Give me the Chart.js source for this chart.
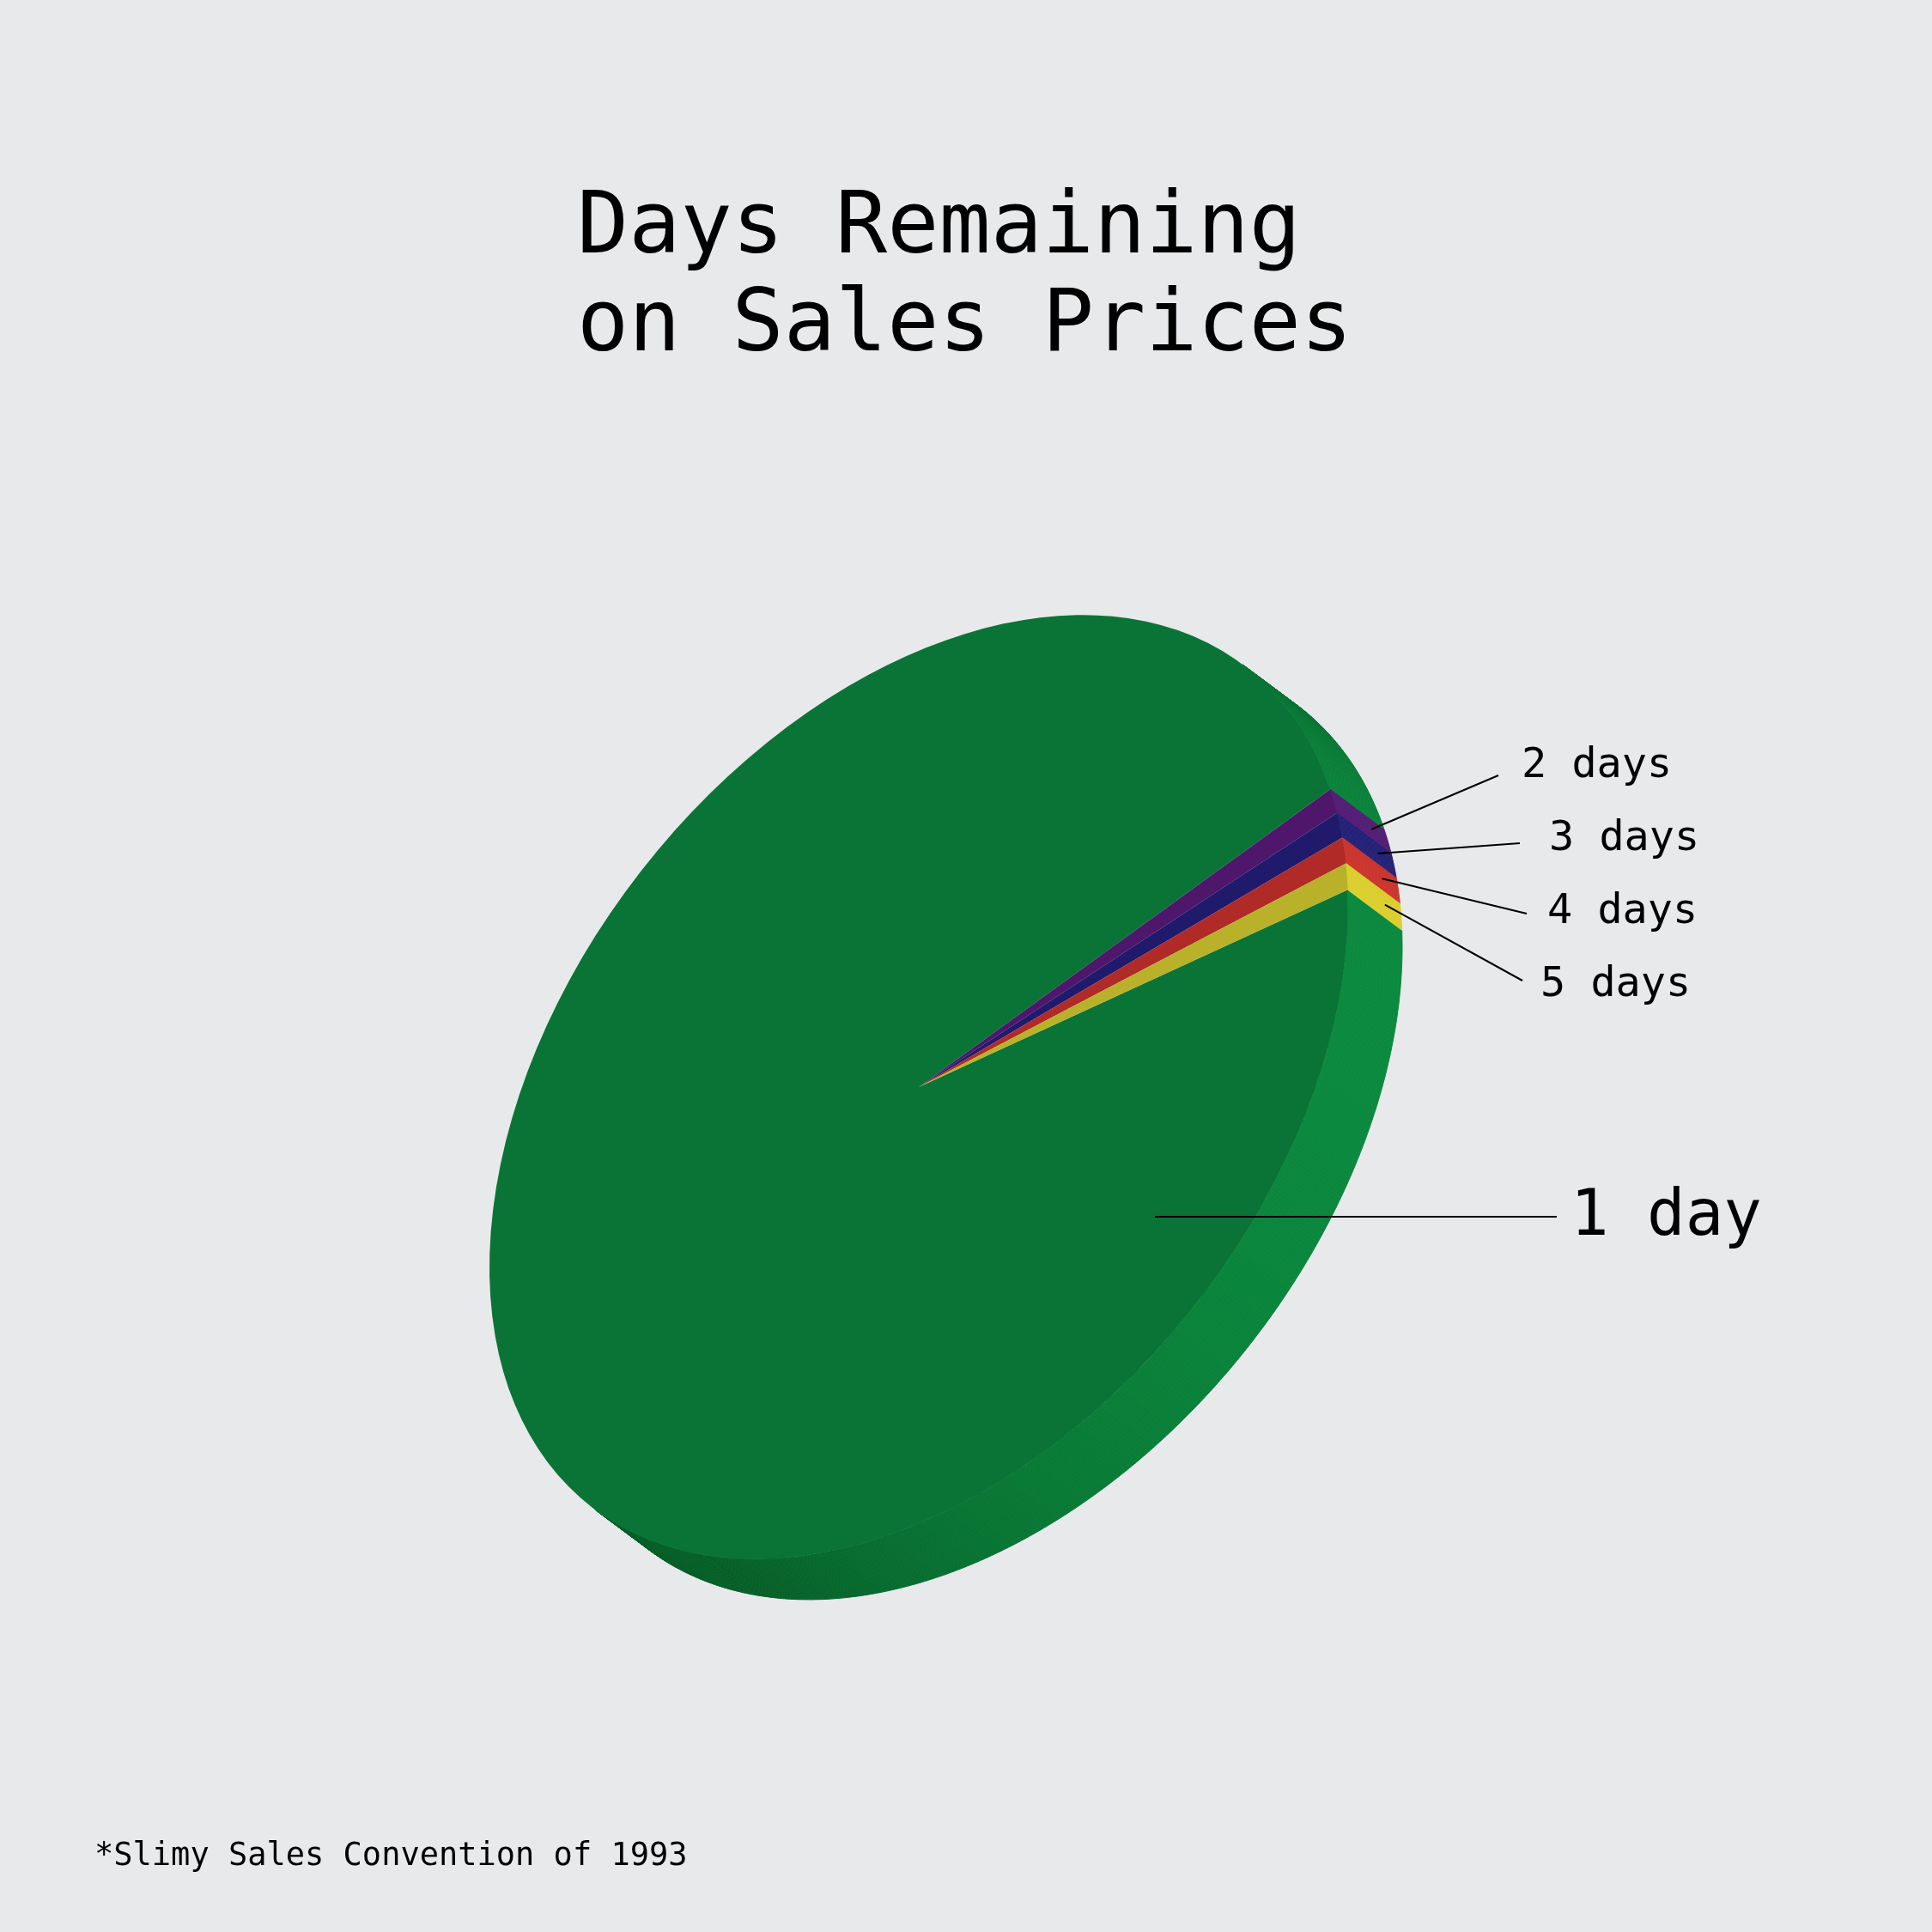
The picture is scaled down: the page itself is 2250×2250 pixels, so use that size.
<!DOCTYPE html>
<html>
<head>
<meta charset="utf-8">
<title>Days Remaining on Sales Prices</title>
<script src="https://cdn.jsdelivr.net/npm/chart.js@4/dist/chart.umd.min.js"></script>
<style>
  html, body { margin: 0; padding: 0; background: #e8e9eb; }
  canvas { display: block; }
</style>
</head>
<body>
<canvas id="salesPie" width="2250" height="2250" style="width:2250px;height:2250px"></canvas>
<script>
// chart data
const titleLines = ["Days Remaining", "on Sales Prices"];
const footnote = "*Slimy Sales Convention of 1993";
const categories = ["1 day", "2 days", "3 days", "4 days", "5 days"];
const shares = [96, 1, 1, 1, 1];

// colours: top face, lit side, shaded side
const topColors = ["#0a7437", "#4e176b", "#201a6c", "#b02a27", "#b9b12a"];
const sideLight = ["#0b8a3f", "#57207a", "#26247c", "#cf372f", "#ddd22f"];
const sideDark = ["#065f27", "#3a1052", "#161350", "#80201c", "#8a841c"];

// label placement: text x, baseline y, leader end x, leader end y
const labelSpots = [
  [1829, 1438, 1813, 1417],
  [1772, 905, 1745, 903],
  [1804, 990, 1770, 982],
  [1802, 1075, 1778, 1064],
  [1794, 1160, 1773, 1142]
];
const bigLeaderStart = [1345, 1417];

// tilt of the disc
const tiltAngle = -52 * Math.PI / 180;
const squash = 0.661;
const depth = [63, 47];
const lightAngle = 10 * Math.PI / 180;
const monoFont = '"DejaVu Sans Mono", "Liberation Mono", monospace';

function hexToRgb(hex) {
  const n = parseInt(hex.slice(1), 16);
  return [(n >> 16) & 255, (n >> 8) & 255, n & 255];
}

function mix(c0, c1, t) {
  const a = hexToRgb(c0), b = hexToRgb(c1);
  const r = a.map((v, i) => Math.round(v + (b[i] - v) * t));
  return `rgb(${r[0]},${r[1]},${r[2]})`;
}

function project(cx, cy, r, phi) {
  const cr = Math.cos(tiltAngle), sr = Math.sin(tiltAngle);
  const lx = r * Math.cos(phi), ly = r * Math.sin(phi) * squash;
  return [cx + lx * cr - ly * sr, cy + lx * sr + ly * cr];
}

const tiltedPie = {
  id: "tiltedPie",
  beforeDatasetsDraw(chart) {
    const ctx = chart.ctx;
    const meta = chart.getDatasetMeta(0);
    const cr = Math.cos(tiltAngle), sr = Math.sin(tiltAngle);

    // side wall, drawn as small facets
    ctx.save();
    ctx.lineWidth = 1;
    meta.data.forEach((arc, i) => {
      const p = arc.getProps(["x", "y", "startAngle", "endAngle", "outerRadius"], true);
      const span = p.endAngle - p.startAngle;
      const n = Math.max(3, Math.ceil(span / (0.4 * Math.PI / 180)));
      for (let j = 0; j < n; j++) {
        const a0 = p.startAngle + span * j / n;
        const a1 = p.startAngle + span * (j + 1) / n;
        const am = (a0 + a1) / 2;
        const nx0 = squash * Math.cos(am), ny0 = Math.sin(am);
        const nx = nx0 * cr - ny0 * sr, ny = nx0 * sr + ny0 * cr;
        if (nx * depth[0] + ny * depth[1] <= 0) continue;
        const theta = Math.atan2(ny, nx);
        const t = Math.pow(Math.max(0, Math.cos(theta - lightAngle)), 1.3);
        const col = mix(sideDark[i], sideLight[i], t);
        const q0 = project(p.x, p.y, p.outerRadius, a0);
        const q1 = project(p.x, p.y, p.outerRadius, a1);
        ctx.beginPath();
        ctx.moveTo(q0[0], q0[1]);
        ctx.lineTo(q1[0], q1[1]);
        ctx.lineTo(q1[0] + depth[0], q1[1] + depth[1]);
        ctx.lineTo(q0[0] + depth[0], q0[1] + depth[1]);
        ctx.closePath();
        ctx.fillStyle = col;
        ctx.strokeStyle = col;
        ctx.fill();
        ctx.stroke();
      }
    });
    ctx.restore();

    // top face: the library's own arcs under a tilt transform
    const first = meta.data[0];
    ctx.save();
    ctx.translate(first.x, first.y);
    ctx.rotate(tiltAngle);
    ctx.scale(1, squash);
    ctx.translate(-first.x, -first.y);
    meta.data.forEach(arc => arc.draw(ctx));
    ctx.restore();
    return false;
  },
  afterDraw(chart) {
    const ctx = chart.ctx;
    const meta = chart.getDatasetMeta(0);
    ctx.save();
    ctx.fillStyle = "#000";
    ctx.textBaseline = "alphabetic";
    ctx.textAlign = "left";

    ctx.font = "100px " + monoFont;
    ctx.fillText(titleLines[0], 672, 294);
    ctx.fillText(titleLines[1], 672, 408);

    ctx.font = "37px " + monoFont;
    ctx.fillText(footnote, 110, 2172);

    // leader lines and labels
    ctx.strokeStyle = "#000";
    ctx.lineWidth = 2;
    meta.data.forEach((arc, i) => {
      const spot = labelSpots[i];
      let start;
      if (i === 0) {
        start = bigLeaderStart;
      } else {
        const p = arc.getProps(["x", "y", "startAngle", "endAngle", "outerRadius"], true);
        const q = project(p.x, p.y, p.outerRadius, (p.startAngle + p.endAngle) / 2);
        start = [q[0] + depth[0] * 0.7, q[1] + depth[1] * 0.7];
      }
      ctx.beginPath();
      ctx.moveTo(start[0], start[1]);
      ctx.lineTo(spot[2], spot[3]);
      ctx.stroke();
      ctx.font = (i === 0 ? "74px " : "48.5px ") + monoFont;
      ctx.fillText(categories[i], spot[0], spot[1]);
    });
    ctx.restore();
  }
};

new Chart(document.getElementById("salesPie"), {
  type: "pie",
  data: {
    labels: categories,
    datasets: [{
      data: shares,
      backgroundColor: topColors,
      borderWidth: 0,
      hoverOffset: 0,
      offset: 0
    }]
  },
  options: {
    responsive: false,
    devicePixelRatio: 1,
    animation: false,
    rotation: 128,
    layout: { padding: { left: 450, right: 560, top: 646, bottom: 364 } },
    plugins: {
      legend: { display: false },
      tooltip: { enabled: false }
    }
  },
  plugins: [tiltedPie]
});
</script>
</body>
</html>
